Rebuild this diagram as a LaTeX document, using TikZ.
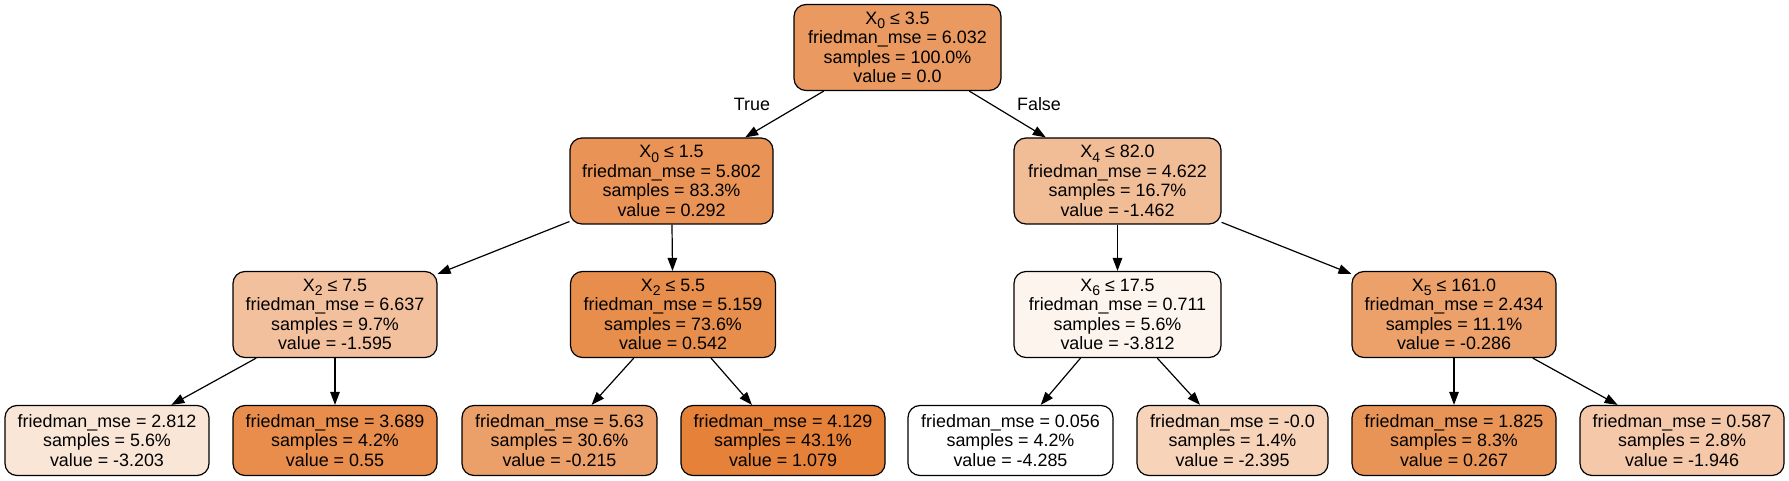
\documentclass[tikz,border=0pt]{standalone}
\usepackage{fontspec}
\setmainfont{Liberation Sans}
\usetikzlibrary{arrows.meta}
\newcommand{\mysubx}[1]{\raisebox{-4.5pt}{\fontsize{14}{14}\selectfont #1}}
\definecolor{c0}{RGB}{234,154,97}
\definecolor{c1}{RGB}{233,147,86}
\definecolor{c2}{RGB}{241,189,151}
\definecolor{c3}{RGB}{242,192,156}
\definecolor{c4}{RGB}{232,142,77}
\definecolor{c5}{RGB}{253,244,237}
\definecolor{c6}{RGB}{236,161,107}
\definecolor{c7}{RGB}{250,230,215}
\definecolor{c8}{RGB}{232,141,76}
\definecolor{c9}{RGB}{235,159,105}
\definecolor{c10}{RGB}{229,129,57}
\definecolor{c11}{RGB}{255,255,255}
\definecolor{c12}{RGB}{246,211,185}
\definecolor{c13}{RGB}{233,148,87}
\definecolor{c14}{RGB}{244,200,169}
\tikzset{
  tnode/.style={draw=black, line width=1.2pt, rounded corners=12pt, align=center,
    inner sep=0pt, font=\fontsize{17.9}{19.5}\selectfont},
  inner/.style={tnode, minimum height=86pt},
  leaf/.style={tnode, minimum height=70pt},
  edge/.style={line width=1.2pt, -{Triangle[length=13pt,width=9.5pt]}},
  elabel/.style={font=\fontsize{17.9}{19.5}\selectfont}
}
\begin{document}
\begin{tikzpicture}[x=1pt,y=-1pt]
\useasboundingbox (0,0) rectangle (1789,481);
% level 0
\node[inner, fill=c0, minimum width=207pt] (n0) at (897.5,47.5) {X\mysubx{0} ≤ 3.5\\friedman\_mse = 6.032\\samples = 100.0\%\\value = 0.0};
% level 1
\node[inner, fill=c1, minimum width=203pt] (n1) at (671.5,181) {X\mysubx{0} ≤ 1.5\\friedman\_mse = 5.802\\samples = 83.3\%\\value = 0.292};
\node[inner, fill=c2, minimum width=207pt] (n2) at (1117.5,181) {X\mysubx{4} ≤ 82.0\\friedman\_mse = 4.622\\samples = 16.7\%\\value = -1.462};
% level 2
\node[inner, fill=c3, minimum width=204pt] (n3) at (335,314.5) {X\mysubx{2} ≤ 7.5\\friedman\_mse = 6.637\\samples = 9.7\%\\value = -1.595};
\node[inner, fill=c4, minimum width=205pt] (n4) at (673,314.5) {X\mysubx{2} ≤ 5.5\\friedman\_mse = 5.159\\samples = 73.6\%\\value = 0.542};
\node[inner, fill=c5, minimum width=207pt] (n5) at (1117.5,314.5) {X\mysubx{6} ≤ 17.5\\friedman\_mse = 0.711\\samples = 5.6\%\\value = -3.812};
\node[inner, fill=c6, minimum width=204pt] (n6) at (1454,314.5) {X\mysubx{5} ≤ 161.0\\friedman\_mse = 2.434\\samples = 11.1\%\\value = -0.286};
% level 3
\node[leaf, fill=c7, minimum width=204pt] (l1) at (107,440.5) {friedman\_mse = 2.812\\samples = 5.6\%\\value = -3.203};
\node[leaf, fill=c8, minimum width=204pt] (l2) at (335,440.5) {friedman\_mse = 3.689\\samples = 4.2\%\\value = 0.55};
\node[leaf, fill=c9, minimum width=195pt] (l3) at (559.5,440.5) {friedman\_mse = 5.63\\samples = 30.6\%\\value = -0.215};
\node[leaf, fill=c10, minimum width=204pt] (l4) at (783,440.5) {friedman\_mse = 4.129\\samples = 43.1\%\\value = 1.079};
\node[leaf, fill=c11, minimum width=205pt] (l5) at (1010.5,440.5) {friedman\_mse = 0.056\\samples = 4.2\%\\value = -4.285};
\node[leaf, fill=c12, minimum width=191pt] (l6) at (1232.5,440.5) {friedman\_mse = -0.0\\samples = 1.4\%\\value = -2.395};
\node[leaf, fill=c13, minimum width=204pt] (l7) at (1454,440.5) {friedman\_mse = 1.825\\samples = 8.3\%\\value = 0.267};
\node[leaf, fill=c14, minimum width=204pt] (l8) at (1682,440.5) {friedman\_mse = 0.587\\samples = 2.8\%\\value = -1.946};
% edges
\draw[edge] (n0) -- (n1);
\draw[edge] (n0) -- (n2);
\draw[edge] (n1) -- (n3);
\draw[edge] (n1) -- (n4);
\draw[edge] (n2) -- (n5);
\draw[edge] (n2) -- (n6);
\draw[edge] (n3) -- (l1);
\draw[edge] (n3) -- (l2);
\draw[edge] (n4) -- (l3);
\draw[edge] (n4) -- (l4);
\draw[edge] (n5) -- (l5);
\draw[edge] (n5) -- (l6);
\draw[edge] (n6) -- (l7);
\draw[edge] (n6) -- (l8);
% edge labels
\node[elabel] (tlab) at (752,104) {True};
\node[elabel] (flab) at (1039,104) {False};
\end{tikzpicture}
\end{document}
